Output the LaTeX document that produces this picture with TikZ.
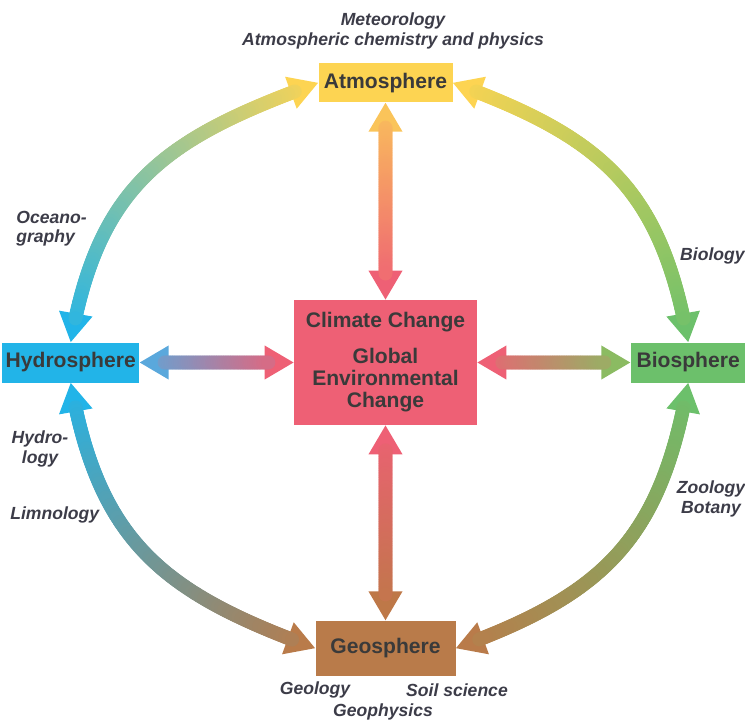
\documentclass[tikz,border=0pt]{standalone}
\usepackage{fontspec}
\setmainfont{Liberation Sans}
\usetikzlibrary{arrows.meta,positioning,decorations.markings}

\definecolor{atmC}{HTML}{FDD452}
\definecolor{atmE}{HTML}{FAC45A}
\definecolor{ccC}{HTML}{EE6075}
\definecolor{hydC}{HTML}{22B4E8}
\definecolor{hydE}{HTML}{5AA8DC}
\definecolor{bioC}{HTML}{6CC06B}
\definecolor{bioE}{HTML}{8BBB62}
\definecolor{geoC}{HTML}{B97B4A}
\definecolor{geoE}{HTML}{BE7848}
\definecolor{txtC}{HTML}{3A3A3A}
\definecolor{lblC}{HTML}{3C3C48}

\begin{document}
\begin{tikzpicture}[
    sph/.style={rectangle, minimum height=0.8cm, inner sep=2pt, text=txtC,
                font=\fontsize{12}{13}\selectfont\bfseries},
    ccbox/.style={rectangle, fill=ccC, minimum width=3.66cm, minimum height=2.5cm,
                  align=center, text=txtC, font=\fontsize{12}{12.5}\selectfont\bfseries},
    lbl/.style={inner sep=0pt, text=lblC, font=\fontsize{10}{11}\selectfont\bfseries\itshape},
    fat/.style 2 args={line width=0.08cm, draw=#1,
        {Triangle[width=0.66cm, length=0.58cm, color=#1]}-{Triangle[width=0.66cm, length=0.58cm, color=#2]},
        postaction={decorate, decoration={markings,
          mark=between positions 0.5cm and -0.5cm step 1pt with {
            \pgfmathtruncatemacro\pct{(\pgfkeysvalueof{/pgf/decoration/mark info/distance from start}/\pgfdecoratedpathlength)*100}
            \fill[#2!\pct!#1] (0,0) circle (0.14cm);}}}}
  ]
    \useasboundingbox (-7.71,-7.17) rectangle (7.19,7.25);

    \node[ccbox] (cc) {Climate Change\\[8pt]Global\\Environmental\\Change};

    \node[sph, fill=atmC, minimum width=2.68cm, minimum height=0.78cm, above=3.94cm of cc] (atm) {Atmosphere};
    \node[sph, fill=hydC, minimum width=2.64cm, left=3.08cm of cc]  (hyd) {Hydrosphere};
    \node[sph, fill=bioC, minimum width=2.3cm, right=3.06cm of cc]  (bio) {Biosphere};
    \node[sph, fill=geoC, minimum width=2.8cm, minimum height=1.1cm, below=3.9cm of cc] (geo) {Geosphere};

    %--- outer ring ---
    \draw[fat={atmC}{hydC}] (atm.west) to[out=200, in=80, looseness=1.15] (hyd.north);
    \draw[fat={atmC}{bioC}] (atm.east) to[out=-20, in=100, looseness=1.15] (bio.north);
    \draw[fat={hydC}{geoC}] (hyd.south) to[out=-80, in=160, looseness=1.15] (geo.west);
    \draw[fat={bioC}{geoC}] (bio.south) to[out=-100, in=20, looseness=1.15] (geo.east);

    %--- spokes ---
    \draw[fat={atmE}{ccC}] (atm) -- (cc);
    \draw[fat={hydE}{ccC}] (hyd) -- (cc);
    \draw[fat={ccC}{bioE}] (cc) -- (bio);
    \draw[fat={ccC}{geoE}] (cc) -- (geo);

    %--- disciplines ---
    \node[lbl, align=center] (met) at (0.15,6.63) {Meteorology\\Atmospheric chemistry and physics};
    \node[lbl, align=left, anchor=west] (ocean) at (-7.39,2.67) {Oceano-\\graphy};
    \node[lbl, anchor=east] (biol) at (7.19,2.13) {Biology};
    \node[lbl, align=center] (hydro) at (-6.91,-1.73) {Hydro-\\logy};
    \node[lbl, anchor=west] (limno) at (-7.51,-3.05) {Limnology};
    \node[lbl, align=center] (zoo) at (6.51,-2.73) {Zoology\\Botany};
    \node[lbl] (geol) at (-1.41,-6.55) {Geology};
    \node[lbl] (soil) at (1.43,-6.55) {Soil science};
    \node[lbl] (geoph) at (-0.05,-6.99) {Geophysics};
\end{tikzpicture}
\end{document}
